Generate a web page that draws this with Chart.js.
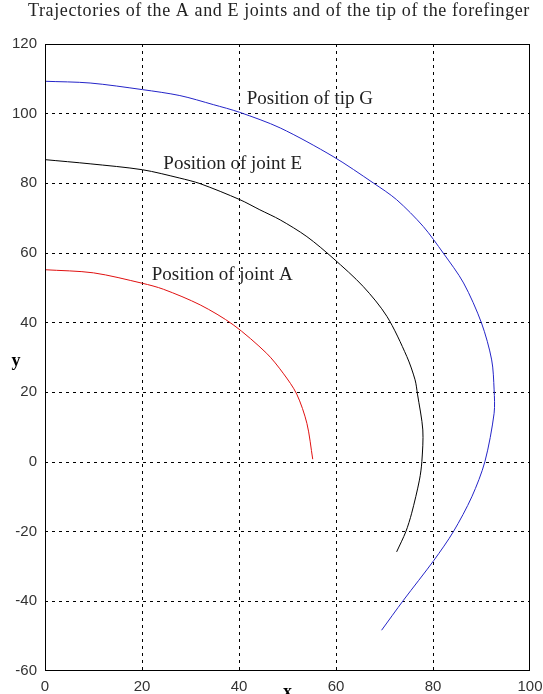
<!DOCTYPE html>
<html>
<head>
<meta charset="utf-8">
<script src="https://cdn.jsdelivr.net/npm/chart.js@4"></script>
<style>
  html, body { margin: 0; padding: 0; background: #fff; }
</style>
</head>
<body>
<canvas id="chart" width="543" height="694"></canvas>
<script>
// trajectory points (x, y in the plot's units)
const jointA_x = [0, 10, 20.1, 24.4, 32, 38.8, 45.7, 49.1, 51.9, 54, 55.2];
const jointA_y = [55.2, 54.3, 51.3, 49.6, 45.1, 39.4, 31.2, 25.5, 19.5, 11.1, 0.8];

const jointE_x = [0, 9.3, 20.1, 27.8, 32, 40.2, 44.3, 48.5, 54, 59.4, 65.6, 70.5, 74.6, 76.3, 76.8, 77.9, 77.7, 77.2, 75.6, 74.4, 72.5];
const jointE_y = [86.8, 85.6, 83.9, 81.5, 79.9, 75.3, 72.4, 69.5, 64.7, 58.5, 50.4, 41.8, 30.3, 23.6, 19.5, 9.2, 0.1, -5.2, -14.7, -20, -25.8];

const tipG_x = [0, 9.3, 20.1, 27.8, 34.7, 40.1, 48.5, 59.4, 67.7, 72.5, 78, 82.1, 86.3, 90, 92.1, 92.6, 92.6, 90.7, 88, 84.2, 80.2, 73.9, 69.4];
const tipG_y = [109.3, 108.8, 106.9, 105.2, 102.6, 100.4, 95.9, 87.7, 80.1, 75.3, 67.6, 60, 51.4, 39.9, 29.3, 20.7, 14, 0.1, -10, -20, -28.2, -39.7, -48.3];

const xTicks = [0, 20, 40, 60, 80, 100];
const yTicks = [-60, -40, -20, 0, 20, 40, 60, 80, 100, 120];

const titleText = 'Trajectories of the A and E joints and of the tip of the forefinger';
const curveLabels = ['Position of tip G', 'Position of joint E', 'Position of joint A'];
const labelAt_x = [41.6, 24.4, 22];
const labelAt_y = [104.3, 85.6, 53.7];

function pts(xs, ys) {
  return xs.map((x, i) => ({ x: x, y: ys[i] }));
}

const serif = '"Liberation Serif", "Times New Roman", serif';
const sans = '"Liberation Sans", Arial, sans-serif';

// title, frame, curve captions and axis letters
const decorations = {
  id: 'decorations',
  afterDraw(chart) {
    const c = chart.ctx;
    const a = chart.chartArea;
    const xs = chart.scales.x, ys = chart.scales.y;
    c.save();
    c.strokeStyle = '#000';
    c.lineWidth = 1;
    c.strokeRect(a.left + 0.5, a.top + 0.5, a.right - a.left - 1, a.bottom - a.top - 1);

    c.fillStyle = '#222';
    c.font = '18px ' + serif;
    c.textBaseline = 'alphabetic';
    c.textAlign = 'center';
    c.letterSpacing = '0.6px';
    c.fillText(titleText, 279, 16);
    c.letterSpacing = '0px';

    c.font = '19px ' + serif;
    c.textBaseline = 'middle';
    c.textAlign = 'left';
    curveLabels.forEach((t, i) => {
      c.fillText(t, xs.getPixelForValue(labelAt_x[i]), ys.getPixelForValue(labelAt_y[i]));
    });

    c.fillStyle = '#000';
    c.font = 'bold 18px ' + serif;
    c.textAlign = 'center';
    c.fillText('y', 16, ys.getPixelForValue(29));
    c.fillText('x', xs.getPixelForValue(50), 692);
    c.restore();
  }
};

const edgeless = (scaleTicks) => (ctx) => {
  const v = ctx.tick ? ctx.tick.value : null;
  return (v === scaleTicks[0] || v === scaleTicks[scaleTicks.length - 1]) ? 'rgba(0,0,0,0)' : '#000';
};

new Chart(document.getElementById('chart'), {
  type: 'scatter',
  data: {
    datasets: [
      { data: pts(jointA_x, jointA_y), borderColor: '#e01010' },
      { data: pts(jointE_x, jointE_y), borderColor: '#000000' },
      { data: pts(tipG_x, tipG_y), borderColor: '#2424c8' }
    ]
  },
  options: {
    responsive: false,
    animation: false,
    showLine: true,
    elements: {
      point: { radius: 0 },
      line: { borderWidth: 1, tension: 0.3, fill: false }
    },
    layout: { padding: { top: 44, right: 13 } },
    plugins: {
      legend: { display: false },
      tooltip: { enabled: false },
      title: { display: false }
    },
    scales: {
      x: {
        type: 'linear',
        min: xTicks[0],
        max: xTicks[xTicks.length - 1],
        afterBuildTicks: (s) => { s.ticks = xTicks.map(v => ({ value: v })); },
        afterFit: (s) => { s.height = 23; s.paddingLeft = 0; s.paddingRight = 0; },
        ticks: { color: '#333', padding: 7, font: { family: sans, size: 15 } },
        grid: { color: edgeless(xTicks), lineWidth: 1, drawTicks: false },
        border: { display: false, dash: [3, 4] }
      },
      y: {
        type: 'linear',
        min: yTicks[0],
        max: yTicks[yTicks.length - 1],
        afterBuildTicks: (s) => { s.ticks = yTicks.map(v => ({ value: v })); },
        afterFit: (s) => { s.width = 45; s.paddingTop = 0; s.paddingBottom = 0; },
        ticks: { color: '#333', padding: 8, font: { family: sans, size: 15 } },
        grid: { color: edgeless(yTicks), lineWidth: 1, drawTicks: false },
        border: { display: false, dash: [3, 4] }
      }
    }
  },
  plugins: [decorations]
});
</script>
</body>
</html>
